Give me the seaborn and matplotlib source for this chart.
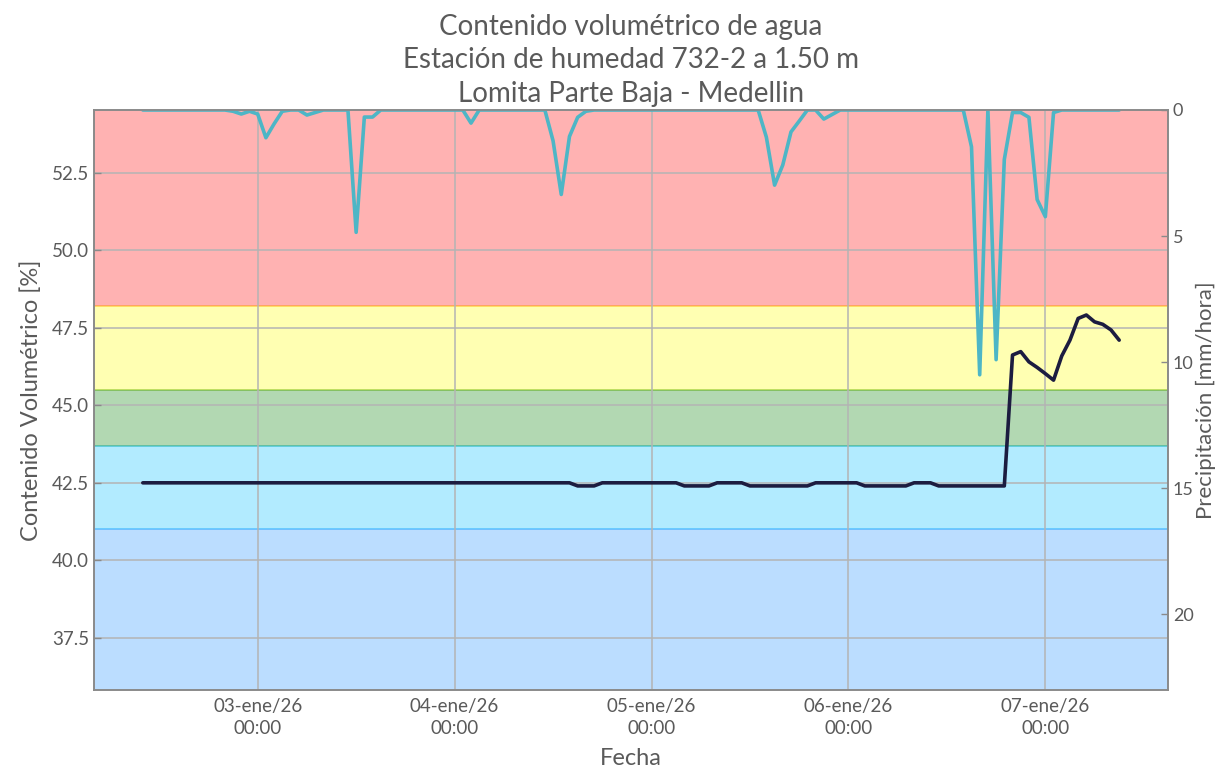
import matplotlib
matplotlib.use("Agg")
import matplotlib.pyplot as plt
import numpy as np
import pandas as pd
import seaborn as sns

# ---------------------------------------------------------------- data
inicio = "2026-01-02 10:00"
n_horas = 120

# contenido volumétrico de agua [%], un valor por hora
humedad = [
    42.5, 42.5, 42.5, 42.5, 42.5, 42.5, 42.5, 42.5, 42.5, 42.5, 42.5, 42.5,
    42.5, 42.5, 42.5, 42.5, 42.5, 42.5, 42.5, 42.5, 42.5, 42.5, 42.5, 42.5,
    42.5, 42.5, 42.5, 42.5, 42.5, 42.5, 42.5, 42.5, 42.5, 42.5, 42.5, 42.5,
    42.5, 42.5, 42.5, 42.5, 42.5, 42.5, 42.5, 42.5, 42.5, 42.5, 42.5, 42.5,
    42.5, 42.5, 42.5, 42.5, 42.5, 42.4, 42.4, 42.4, 42.5, 42.5, 42.5, 42.5,
    42.5, 42.5, 42.5, 42.5, 42.5, 42.5, 42.4, 42.4, 42.4, 42.4, 42.5, 42.5,
    42.5, 42.5, 42.4, 42.4, 42.4, 42.4, 42.4, 42.4, 42.4, 42.4, 42.5, 42.5,
    42.5, 42.5, 42.5, 42.5, 42.4, 42.4, 42.4, 42.4, 42.4, 42.4, 42.5, 42.5,
    42.5, 42.4, 42.4, 42.4, 42.4, 42.4, 42.4, 42.4, 42.4, 42.4, 46.62, 46.73,
    46.40, 46.22, 46.02, 45.81, 46.59, 47.10, 47.80, 47.91, 47.69, 47.61, 47.43, 47.10,
]

# precipitación [mm/hora]
precipitacion = [
    0, 0, 0, 0, 0, 0, 0, 0, 0, 0, 0, 0.05,
    0.16, 0.05, 0.16, 1.1, 0.55, 0.05, 0, 0, 0.2, 0.1, 0, 0,
    0, 0, 4.85, 0.28, 0.28, 0, 0, 0, 0, 0, 0, 0,
    0, 0, 0, 0, 0.52, 0, 0, 0, 0, 0, 0, 0,
    0, 0, 1.22, 3.35, 1.05, 0.29, 0.05, 0, 0, 0, 0, 0,
    0, 0, 0, 0, 0, 0, 0, 0, 0, 0, 0, 0,
    0, 0, 0, 0, 1.08, 2.98, 2.18, 0.87, 0.44, 0, 0, 0.36,
    0.18, 0, 0, 0, 0, 0, 0, 0, 0, 0, 0, 0,
    0, 0, 0, 0, 0, 1.46, 10.5, 0, 9.9, 1.96, 0.1, 0.1,
    0.29, 3.55, 4.23, 0.1, 0, 0, 0, 0, 0, 0, 0, 0,
]

# umbrales de las franjas de estado (límite inferior, límite superior) y colores
franjas_lim = [(48.2, 60.0), (45.5, 48.2), (43.7, 45.5), (41.0, 43.7), (30.0, 41.0)]
franjas_color = ["#ff0000", "#ffff00", "#008000", "#00bfff", "#1e90ff"]

fechas_ticks = ["2026-01-03", "2026-01-04", "2026-01-05", "2026-01-06", "2026-01-07"]
etiquetas_x = ["03-ene/26\n00:00", "04-ene/26\n00:00", "05-ene/26\n00:00",
               "06-ene/26\n00:00", "07-ene/26\n00:00"]
ticks_hum = [37.5, 40.0, 42.5, 45.0, 47.5, 50.0, 52.5]
ticks_pp = [0, 5, 10, 15, 20]

titulo = ("Contenido volumétrico de agua\n"
          "Estación de humedad 732-2 a 1.50 m\n"
          "Lomita Parte Baja - Medellin")

# ---------------------------------------------------------------- style
sns.set_theme(style="white")
plt.rcParams["font.family"] = ["Lato", "DejaVu Sans"]
gris_texto = "#5a5a5a"
gris_borde = "#8a8a8a"
peso = "normal"

df = pd.DataFrame({
    "fecha": pd.date_range(inicio, periods=n_horas, freq="h"),
    "humedad": humedad,
    "precipitacion": precipitacion,
})

fig = plt.figure(figsize=(12.23, 7.74), dpi=100)
ax = fig.add_axes([94 / 1223, 1 - 690 / 774, (1168 - 94) / 1223, (690 - 110) / 774])

for (lo, hi), c in zip(franjas_lim, franjas_color):
    ax.axhspan(lo, hi, facecolor=c, edgecolor=c, alpha=0.3, lw=1.2, zorder=0.2)

sns.lineplot(data=df, x="fecha", y="humedad", ax=ax, color="#1c1c40", lw=2.6, zorder=3)

ax2 = ax.twinx()
sns.lineplot(data=df, x="fecha", y="precipitacion", ax=ax2, color="#4db6c6", lw=2.6)

ax.set_ylim(35.82, 54.52)
ax2.set_ylim(23.0, 0)

ax.set_xticks(pd.to_datetime(fechas_ticks))
ax.set_xticklabels(etiquetas_x, linespacing=1.35)
ax.set_yticks(ticks_hum)
ax.set_yticklabels([f"{v:.1f}" for v in ticks_hum])
ax2.set_yticks(ticks_pp)
ax2.set_yticklabels([str(v) for v in ticks_pp])

ax.set_axisbelow("line")
ax.grid(True, color="#b4b4b4", lw=1.1)
ax2.grid(False)

for a in (ax, ax2):
    for s in a.spines.values():
        s.set_color(gris_borde)
        s.set_linewidth(1.2)
    a.tick_params(direction="in", length=5, width=1, color=gris_borde,
                  labelcolor=gris_texto, labelsize=13.5)
ax.tick_params(axis="x", pad=6)
ax2.tick_params(axis="y", pad=3.5, labelsize=13)

for lbl in ax.get_xticklabels() + ax.get_yticklabels() + ax2.get_yticklabels():
    lbl.set_fontweight(peso)

ax.set_xlabel("Fecha", fontsize=17, color=gris_texto, fontweight=peso, labelpad=8)
ax.set_ylabel("Contenido Volumétrico [%]", fontsize=17, color=gris_texto,
              fontweight=peso, labelpad=7)
ax2.set_ylabel("Precipitación [mm/hora]", fontsize=16, color=gris_texto,
               fontweight=peso)
ax2.yaxis.set_label_coords(1.0262, 0.5)
ax.set_title(titulo, fontsize=20, color=gris_texto, fontweight=peso,
             linespacing=1.35, pad=6)

fig.savefig("out.png", dpi=100)
